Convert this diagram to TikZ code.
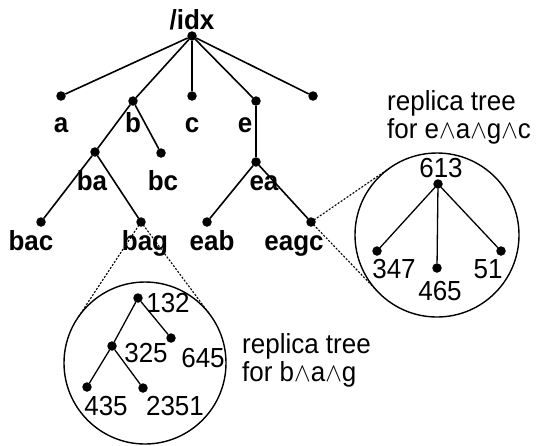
\documentclass[tikz,border=0pt]{standalone}
\usepackage{fontspec}
\setmainfont{Liberation Sans}
\usetikzlibrary{calc}
\newcommand\tallt[1]{\scalebox{1}[1.06]{#1}}
\begin{document}
\begin{tikzpicture}[x=1pt,y=-1pt,
  tdot/.style={circle,fill=black,inner sep=0pt,outer sep=0pt,minimum size=9.5pt},
  treeline/.style={line width=1.6pt},
  subline/.style={line width=1.3pt},
  lbl/.style={anchor=base,inner sep=0pt,font=\fontsize{26}{30}\selectfont\bfseries},
  numtext/.style={anchor=base,inner sep=0pt,font=\fontsize{26}{30}\selectfont},
  zoomc/.style={circle,draw,line width=1.4pt,inner sep=0pt,outer sep=0pt},
  zoomline/.style={dash pattern=on 2pt off 1.6pt,line width=1.1pt},
  captext/.style={anchor=north west,inner sep=0pt,align=left,font=\fontsize{26}{28.5}\selectfont}
]
\useasboundingbox (0,0) rectangle (543,445);

% main tree dots
\node[tdot] (root) at (192,36) {};
\node[tdot] (a) at (61,96) {};
\node[tdot] (b) at (133,101) {};
\node[tdot] (c) at (192,96) {};
\node[tdot] (e) at (256,101) {};
\node[tdot] (f) at (313,96) {};
\node[tdot] (ba) at (95,152) {};
\node[tdot] (bc) at (161,153) {};
\node[tdot] (ea) at (256,162) {};
\node[tdot] (bac) at (41,222) {};
\node[tdot] (bag) at (141,222) {};
\node[tdot] (eab) at (207,222) {};
\node[tdot] (eagc) at (311,222) {};

\draw[treeline] (root) -- (a);
\draw[treeline] (root) -- (b);
\draw[treeline] (root) -- (c);
\draw[treeline] (root) -- (e);
\draw[treeline] (root) -- (f);
\draw[treeline] (b) -- (ba);
\draw[treeline] (b) -- (bc);
\draw[treeline] (e) -- (ea);
\draw[treeline] (ba) -- (bac);
\draw[treeline] (ba) -- (bag);
\draw[treeline] (ea) -- (eab);
\draw[treeline] (ea) -- (eagc);

% labels
\node[lbl] (lroot) at (192,29) {\tallt{/idx}};
\node[lbl] (la) at (61,132) {\tallt{a}};
\node[lbl] (lb) at (133,132) {\tallt{b}};
\node[lbl] (lc) at (192,132) {\tallt{c}};
\node[lbl] (le) at (245,132) {\tallt{e}};
\node[lbl] (lba) at (92,190) {\tallt{ba}};
\node[lbl] (lbc) at (163,190) {\tallt{bc}};
\node[lbl] (lea) at (264,190) {\tallt{ea}};
\node[lbl] (lbac) at (31,250) {\tallt{bac}};
\node[lbl] (lbag) at (145,250) {\tallt{bag}};
\node[lbl] (leab) at (212,250) {\tallt{eab}};
\node[lbl] (leagc) at (294,250) {\tallt{eagc}};

% right replica circle
\node[zoomc,minimum size=164pt] (rc) at (437,235) {};
\draw[zoomline] (eagc.center) -- (tangent cs:node=rc,point={(eagc.center)},solution=1);
\draw[zoomline] (eagc.center) -- (tangent cs:node=rc,point={(eagc.center)},solution=2);

\node[tdot] (r613) at (438,184) {};
\node[tdot] (r347) at (377,251) {};
\node[tdot] (r465) at (437,268) {};
\node[tdot] (r51) at (501,251) {};
\draw[subline] (r613) -- (r347);
\draw[subline] (r613) -- (r465);
\draw[subline] (r613) -- (r51);
\node[numtext] (t613) at (441,177) {\tallt{613}};
\node[numtext] (t347) at (394,278) {\tallt{347}};
\node[numtext] (t465) at (440,300) {\tallt{465}};
\node[numtext] (t51) at (488,278) {\tallt{51}};

% bottom replica circle
\node[zoomc,minimum size=162pt] (bcirc) at (145,363) {};
\draw[zoomline] (bag.center) -- (tangent cs:node=bcirc,point={(bag.center)},solution=1);
\draw[zoomline] (bag.center) -- (tangent cs:node=bcirc,point={(bag.center)},solution=2);

\node[tdot] (s132) at (138,298) {};
\node[tdot] (s325) at (112,346) {};
\node[tdot] (s645) at (171,338) {};
\node[tdot] (s435) at (87,387) {};
\node[tdot] (s2351) at (143,388) {};
\draw[subline] (s132) -- (s325);
\draw[subline] (s132) -- (s645);
\draw[subline] (s325) -- (s435);
\draw[subline] (s325) -- (s2351);
\node[numtext] (t132) at (168,312) {\tallt{132}};
\node[numtext] (t325) at (146,362) {\tallt{325}};
\node[numtext] (t645) at (203,367) {\tallt{645}};
\node[numtext] (t435) at (106,415) {\tallt{435}};
\node[numtext] (t2351) at (175,415) {\tallt{2351}};

% captions
\node[captext] (cap1) at (387,90) {\tallt{replica tree}\\\tallt{for e$\wedge$a$\wedge$g$\wedge$c}};
\node[captext] (cap2) at (242,333) {\tallt{replica tree}\\\tallt{for b$\wedge$a$\wedge$g}};
\end{tikzpicture}
\end{document}
